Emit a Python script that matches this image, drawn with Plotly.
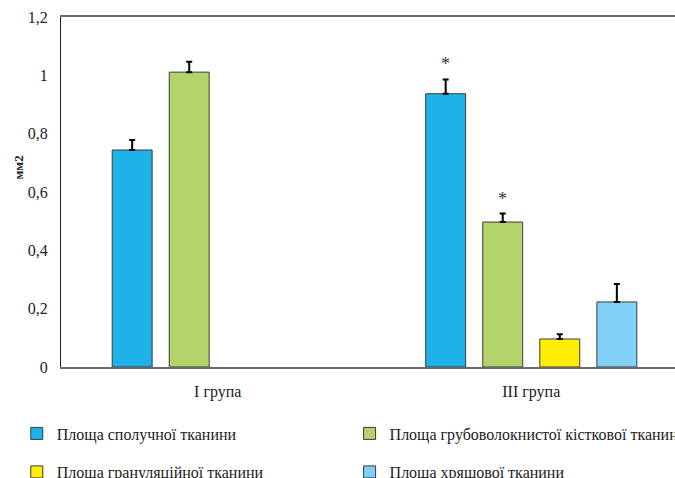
import plotly.graph_objects as go

categories = ["I група", "III група"]
series_names = [
    "Площа сполучної тканини",
    "Площа грубоволокнистої кісткової тканини",
    "Площа грануляційної тканини",
    "Площа хрящової тканини",
]
values = [
    [0.744, 0.937],
    [1.011, 0.497],
    [None, 0.096],
    [None, 0.223],
]
errors = [
    [0.034, 0.049],
    [0.036, 0.029],
    [0, 0.016],
    [0, 0.062],
]
colors = ["#1DB2EA", "#B3D46A", "#FFEE00", "#80D1F5"]
legend_ids = ["legend", "legend2", "legend3", "legend4"]
# significance marks: (series index, category index)
stars = [(0, 1), (1, 1)]

BARGAP = 0.272
GROUPGAP = 0.30
FONT = "Liberation Serif, Times New Roman, serif"

fig = go.Figure()
for i, name in enumerate(series_names):
    fig.add_trace(go.Bar(
        x=categories,
        y=values[i],
        name=name,
        marker=dict(color=colors[i], line=dict(color="#3a3a3a", width=1)),
        error_y=dict(type="data", array=errors[i], arrayminus=[0] * len(errors[i]),
                     symmetric=False, color="#000000", thickness=2, width=3),
        legend=legend_ids[i],
    ))

slot = (1 - BARGAP) / len(series_names)
annotations = []
for si, ci in stars:
    annotations.append(dict(
        x=ci + (si - (len(series_names) - 1) / 2) * slot,
        y=values[si][ci] + errors[si][ci],
        xref="x", yref="y", text="*", showarrow=False,
        yanchor="bottom", yshift=3,
        font=dict(family=FONT, size=18, color="#333333"),
    ))
annotations.append(dict(
    x=-0.07, y=0.57, xref="paper", yref="paper", text="<b>мм2</b>",
    showarrow=False, textangle=-90, xanchor="center", yanchor="middle",
    font=dict(family=FONT, size=13, color="#222222"),
))

legend_font = dict(family=FONT, size=16, color="#222222")
leg_pos = [(-0.072, -0.19), (0.47, -0.19), (-0.072, -0.30), (0.47, -0.30)]
legends = {}
for k, (lx, ly) in zip(legend_ids, leg_pos):
    legends[k] = dict(orientation="h", x=lx, xanchor="left", y=ly, yanchor="middle",
                      font=legend_font, itemwidth=30, bgcolor="rgba(0,0,0,0)")

fig.update_layout(
    width=675, height=478,
    margin=dict(l=61, r=0, t=17, b=111, autoexpand=False),
    paper_bgcolor="white", plot_bgcolor="white",
    separators=", ",
    barmode="group", bargap=BARGAP, bargroupgap=GROUPGAP,
    font=dict(family=FONT, size=16, color="#222222"),
    annotations=annotations,
    showlegend=True,
    **legends,
)
fig.update_xaxes(
    type="category", range=[-0.5, 1.4585],
    showline=True, linecolor="#6a6a6a", linewidth=2, mirror=True,
    ticks="", showgrid=False, ticklabelstandoff=9,
    tickfont=dict(family=FONT, size=16, color="#222222"),
)
fig.update_yaxes(
    range=[0, 1.2], dtick=0.2, tick0=0,
    showline=True, linecolor="#222222", linewidth=1,
    showgrid=False, zeroline=False, ticks="", ticklabelstandoff=9,
    tickfont=dict(family=FONT, size=16, color="#222222"),
)

fig.write_html("out.html", config={"displayModeBar": False},
               post_script="document.body.style.margin='0px';")
